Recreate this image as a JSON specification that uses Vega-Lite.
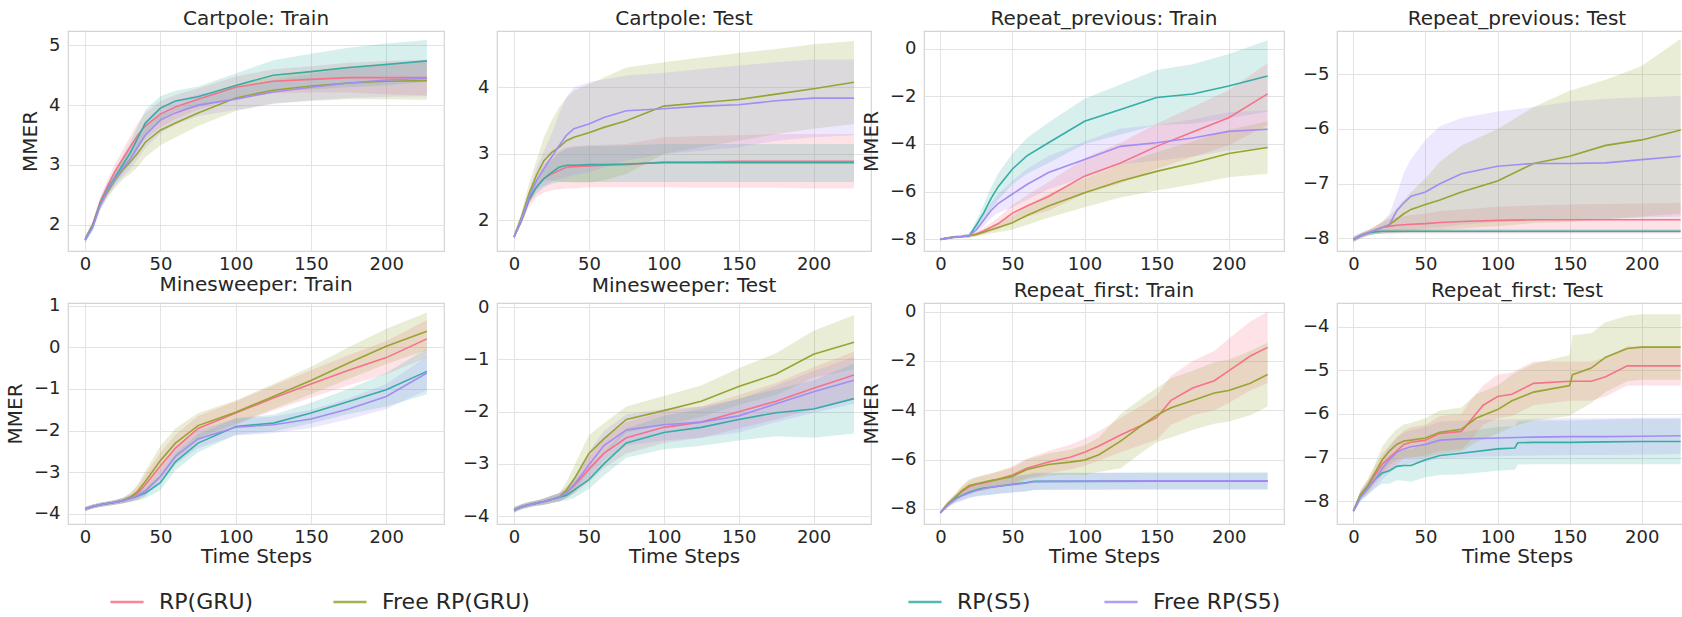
{
"$schema": "https://vega.github.io/schema/vega-lite/v6.json",
"padding": {"left": 4, "top": 8, "right": 0, "bottom": 0},
"background": "white",
"data": {"values": [
{"p":1,"s":"RP(GRU)","x":0,"y":1.75,"lo":1.70,"hi":1.80},
{"p":1,"s":"RP(GRU)","x":5,"y":2.0,"lo":1.94,"hi":2.06},
{"p":1,"s":"RP(GRU)","x":10,"y":2.38,"lo":2.30,"hi":2.46},
{"p":1,"s":"RP(GRU)","x":15,"y":2.65,"lo":2.55,"hi":2.75},
{"p":1,"s":"RP(GRU)","x":20,"y":2.9,"lo":2.78,"hi":3.02},
{"p":1,"s":"RP(GRU)","x":25,"y":3.1,"lo":2.95,"hi":3.25},
{"p":1,"s":"RP(GRU)","x":30,"y":3.3,"lo":3.12,"hi":3.48},
{"p":1,"s":"RP(GRU)","x":35,"y":3.5,"lo":3.3,"hi":3.7},
{"p":1,"s":"RP(GRU)","x":40,"y":3.65,"lo":3.43,"hi":3.87},
{"p":1,"s":"RP(GRU)","x":50,"y":3.85,"lo":3.63,"hi":4.07},
{"p":1,"s":"RP(GRU)","x":60,"y":3.97,"lo":3.77,"hi":4.17},
{"p":1,"s":"RP(GRU)","x":75,"y":4.1,"lo":3.92,"hi":4.28},
{"p":1,"s":"RP(GRU)","x":100,"y":4.3,"lo":4.12,"hi":4.48},
{"p":1,"s":"RP(GRU)","x":125,"y":4.4,"lo":4.2,"hi":4.6},
{"p":1,"s":"RP(GRU)","x":150,"y":4.43,"lo":4.21,"hi":4.65},
{"p":1,"s":"RP(GRU)","x":175,"y":4.46,"lo":4.21,"hi":4.71},
{"p":1,"s":"RP(GRU)","x":200,"y":4.46,"lo":4.18,"hi":4.74},
{"p":1,"s":"RP(GRU)","x":227,"y":4.46,"lo":4.16,"hi":4.76},
{"p":1,"s":"Free RP(GRU)","x":0,"y":1.75,"lo":1.70,"hi":1.80},
{"p":1,"s":"Free RP(GRU)","x":5,"y":1.98,"lo":1.92,"hi":2.04},
{"p":1,"s":"Free RP(GRU)","x":10,"y":2.33,"lo":2.25,"hi":2.41},
{"p":1,"s":"Free RP(GRU)","x":15,"y":2.55,"lo":2.45,"hi":2.65},
{"p":1,"s":"Free RP(GRU)","x":20,"y":2.75,"lo":2.62,"hi":2.88},
{"p":1,"s":"Free RP(GRU)","x":25,"y":2.92,"lo":2.75,"hi":3.09},
{"p":1,"s":"Free RP(GRU)","x":30,"y":3.05,"lo":2.85,"hi":3.25},
{"p":1,"s":"Free RP(GRU)","x":35,"y":3.2,"lo":2.97,"hi":3.43},
{"p":1,"s":"Free RP(GRU)","x":40,"y":3.38,"lo":3.13,"hi":3.63},
{"p":1,"s":"Free RP(GRU)","x":50,"y":3.58,"lo":3.33,"hi":3.83},
{"p":1,"s":"Free RP(GRU)","x":60,"y":3.7,"lo":3.46,"hi":3.94},
{"p":1,"s":"Free RP(GRU)","x":75,"y":3.87,"lo":3.65,"hi":4.09},
{"p":1,"s":"Free RP(GRU)","x":100,"y":4.12,"lo":3.9,"hi":4.34},
{"p":1,"s":"Free RP(GRU)","x":125,"y":4.25,"lo":4.03,"hi":4.47},
{"p":1,"s":"Free RP(GRU)","x":150,"y":4.32,"lo":4.07,"hi":4.57},
{"p":1,"s":"Free RP(GRU)","x":175,"y":4.37,"lo":4.1,"hi":4.64},
{"p":1,"s":"Free RP(GRU)","x":200,"y":4.4,"lo":4.1,"hi":4.7},
{"p":1,"s":"Free RP(GRU)","x":227,"y":4.41,"lo":4.09,"hi":4.73},
{"p":1,"s":"RP(S5)","x":0,"y":1.75,"lo":1.70,"hi":1.80},
{"p":1,"s":"RP(S5)","x":5,"y":1.97,"lo":1.91,"hi":2.03},
{"p":1,"s":"RP(S5)","x":10,"y":2.35,"lo":2.27,"hi":2.43},
{"p":1,"s":"RP(S5)","x":15,"y":2.6,"lo":2.5,"hi":2.7},
{"p":1,"s":"RP(S5)","x":20,"y":2.8,"lo":2.68,"hi":2.92},
{"p":1,"s":"RP(S5)","x":25,"y":3.0,"lo":2.85,"hi":3.15},
{"p":1,"s":"RP(S5)","x":30,"y":3.2,"lo":3.02,"hi":3.38},
{"p":1,"s":"RP(S5)","x":35,"y":3.45,"lo":3.25,"hi":3.65},
{"p":1,"s":"RP(S5)","x":40,"y":3.7,"lo":3.48,"hi":3.92},
{"p":1,"s":"RP(S5)","x":50,"y":3.95,"lo":3.75,"hi":4.15},
{"p":1,"s":"RP(S5)","x":60,"y":4.07,"lo":3.9,"hi":4.24},
{"p":1,"s":"RP(S5)","x":75,"y":4.14,"lo":3.97,"hi":4.31},
{"p":1,"s":"RP(S5)","x":100,"y":4.33,"lo":4.13,"hi":4.53},
{"p":1,"s":"RP(S5)","x":125,"y":4.5,"lo":4.25,"hi":4.75},
{"p":1,"s":"RP(S5)","x":150,"y":4.56,"lo":4.26,"hi":4.86},
{"p":1,"s":"RP(S5)","x":175,"y":4.63,"lo":4.3,"hi":4.96},
{"p":1,"s":"RP(S5)","x":200,"y":4.68,"lo":4.33,"hi":5.03},
{"p":1,"s":"RP(S5)","x":227,"y":4.74,"lo":4.39,"hi":5.09},
{"p":1,"s":"Free RP(S5)","x":0,"y":1.75,"lo":1.70,"hi":1.80},
{"p":1,"s":"Free RP(S5)","x":5,"y":1.95,"lo":1.89,"hi":2.01},
{"p":1,"s":"Free RP(S5)","x":10,"y":2.32,"lo":2.24,"hi":2.40},
{"p":1,"s":"Free RP(S5)","x":15,"y":2.58,"lo":2.48,"hi":2.68},
{"p":1,"s":"Free RP(S5)","x":20,"y":2.77,"lo":2.65,"hi":2.89},
{"p":1,"s":"Free RP(S5)","x":25,"y":2.95,"lo":2.8,"hi":3.1},
{"p":1,"s":"Free RP(S5)","x":30,"y":3.1,"lo":2.92,"hi":3.28},
{"p":1,"s":"Free RP(S5)","x":35,"y":3.3,"lo":3.1,"hi":3.5},
{"p":1,"s":"Free RP(S5)","x":40,"y":3.5,"lo":3.28,"hi":3.72},
{"p":1,"s":"Free RP(S5)","x":50,"y":3.75,"lo":3.53,"hi":3.97},
{"p":1,"s":"Free RP(S5)","x":60,"y":3.87,"lo":3.67,"hi":4.07},
{"p":1,"s":"Free RP(S5)","x":75,"y":4.0,"lo":3.82,"hi":4.18},
{"p":1,"s":"Free RP(S5)","x":100,"y":4.1,"lo":3.92,"hi":4.28},
{"p":1,"s":"Free RP(S5)","x":125,"y":4.22,"lo":4.02,"hi":4.42},
{"p":1,"s":"Free RP(S5)","x":150,"y":4.3,"lo":4.08,"hi":4.52},
{"p":1,"s":"Free RP(S5)","x":175,"y":4.37,"lo":4.12,"hi":4.62},
{"p":1,"s":"Free RP(S5)","x":200,"y":4.42,"lo":4.14,"hi":4.7},
{"p":1,"s":"Free RP(S5)","x":227,"y":4.45,"lo":4.15,"hi":4.75},

{"p":2,"s":"RP(GRU)","x":0,"y":1.75,"lo":1.72,"hi":1.78},
{"p":2,"s":"RP(GRU)","x":5,"y":2.0,"lo":1.95,"hi":2.05},
{"p":2,"s":"RP(GRU)","x":10,"y":2.3,"lo":2.2,"hi":2.4},
{"p":2,"s":"RP(GRU)","x":15,"y":2.5,"lo":2.35,"hi":2.65},
{"p":2,"s":"RP(GRU)","x":20,"y":2.63,"lo":2.42,"hi":2.85},
{"p":2,"s":"RP(GRU)","x":25,"y":2.7,"lo":2.45,"hi":2.95},
{"p":2,"s":"RP(GRU)","x":30,"y":2.75,"lo":2.47,"hi":3.05},
{"p":2,"s":"RP(GRU)","x":35,"y":2.8,"lo":2.48,"hi":3.1},
{"p":2,"s":"RP(GRU)","x":40,"y":2.81,"lo":2.48,"hi":3.12},
{"p":2,"s":"RP(GRU)","x":50,"y":2.82,"lo":2.5,"hi":3.13},
{"p":2,"s":"RP(GRU)","x":60,"y":2.83,"lo":2.5,"hi":3.14},
{"p":2,"s":"RP(GRU)","x":75,"y":2.84,"lo":2.5,"hi":3.15},
{"p":2,"s":"RP(GRU)","x":100,"y":2.88,"lo":2.5,"hi":3.25},
{"p":2,"s":"RP(GRU)","x":125,"y":2.88,"lo":2.49,"hi":3.27},
{"p":2,"s":"RP(GRU)","x":150,"y":2.89,"lo":2.49,"hi":3.28},
{"p":2,"s":"RP(GRU)","x":175,"y":2.89,"lo":2.49,"hi":3.3},
{"p":2,"s":"RP(GRU)","x":200,"y":2.89,"lo":2.48,"hi":3.3},
{"p":2,"s":"RP(GRU)","x":227,"y":2.89,"lo":2.48,"hi":3.3},
{"p":2,"s":"Free RP(GRU)","x":0,"y":1.75,"lo":1.72,"hi":1.8},
{"p":2,"s":"Free RP(GRU)","x":5,"y":2.05,"lo":1.98,"hi":2.12},
{"p":2,"s":"Free RP(GRU)","x":10,"y":2.4,"lo":2.3,"hi":2.55},
{"p":2,"s":"Free RP(GRU)","x":15,"y":2.68,"lo":2.5,"hi":2.9},
{"p":2,"s":"Free RP(GRU)","x":20,"y":2.9,"lo":2.6,"hi":3.25},
{"p":2,"s":"Free RP(GRU)","x":25,"y":3.02,"lo":2.6,"hi":3.5},
{"p":2,"s":"Free RP(GRU)","x":30,"y":3.1,"lo":2.58,"hi":3.7},
{"p":2,"s":"Free RP(GRU)","x":35,"y":3.2,"lo":2.58,"hi":3.85},
{"p":2,"s":"Free RP(GRU)","x":40,"y":3.25,"lo":2.57,"hi":3.95},
{"p":2,"s":"Free RP(GRU)","x":50,"y":3.32,"lo":2.57,"hi":4.05},
{"p":2,"s":"Free RP(GRU)","x":60,"y":3.4,"lo":2.6,"hi":4.15},
{"p":2,"s":"Free RP(GRU)","x":75,"y":3.5,"lo":2.7,"hi":4.3},
{"p":2,"s":"Free RP(GRU)","x":100,"y":3.72,"lo":3.0,"hi":4.38},
{"p":2,"s":"Free RP(GRU)","x":125,"y":3.77,"lo":3.1,"hi":4.45},
{"p":2,"s":"Free RP(GRU)","x":150,"y":3.82,"lo":3.2,"hi":4.52},
{"p":2,"s":"Free RP(GRU)","x":175,"y":3.9,"lo":3.3,"hi":4.58},
{"p":2,"s":"Free RP(GRU)","x":200,"y":3.98,"lo":3.38,"hi":4.65},
{"p":2,"s":"Free RP(GRU)","x":227,"y":4.08,"lo":3.45,"hi":4.7},
{"p":2,"s":"RP(S5)","x":0,"y":1.75,"lo":1.72,"hi":1.78},
{"p":2,"s":"RP(S5)","x":5,"y":2.0,"lo":1.96,"hi":2.04},
{"p":2,"s":"RP(S5)","x":10,"y":2.32,"lo":2.25,"hi":2.4},
{"p":2,"s":"RP(S5)","x":15,"y":2.5,"lo":2.4,"hi":2.6},
{"p":2,"s":"RP(S5)","x":20,"y":2.63,"lo":2.5,"hi":2.78},
{"p":2,"s":"RP(S5)","x":25,"y":2.72,"lo":2.55,"hi":2.9},
{"p":2,"s":"RP(S5)","x":30,"y":2.8,"lo":2.58,"hi":3.02},
{"p":2,"s":"RP(S5)","x":35,"y":2.83,"lo":2.58,"hi":3.08},
{"p":2,"s":"RP(S5)","x":40,"y":2.83,"lo":2.58,"hi":3.1},
{"p":2,"s":"RP(S5)","x":50,"y":2.84,"lo":2.58,"hi":3.12},
{"p":2,"s":"RP(S5)","x":60,"y":2.84,"lo":2.58,"hi":3.12},
{"p":2,"s":"RP(S5)","x":75,"y":2.85,"lo":2.58,"hi":3.13},
{"p":2,"s":"RP(S5)","x":100,"y":2.87,"lo":2.58,"hi":3.15},
{"p":2,"s":"RP(S5)","x":125,"y":2.87,"lo":2.58,"hi":3.15},
{"p":2,"s":"RP(S5)","x":150,"y":2.87,"lo":2.58,"hi":3.15},
{"p":2,"s":"RP(S5)","x":175,"y":2.87,"lo":2.58,"hi":3.15},
{"p":2,"s":"RP(S5)","x":200,"y":2.87,"lo":2.58,"hi":3.15},
{"p":2,"s":"RP(S5)","x":227,"y":2.87,"lo":2.58,"hi":3.15},
{"p":2,"s":"Free RP(S5)","x":0,"y":1.75,"lo":1.72,"hi":1.78},
{"p":2,"s":"Free RP(S5)","x":5,"y":2.02,"lo":1.97,"hi":2.08},
{"p":2,"s":"Free RP(S5)","x":10,"y":2.35,"lo":2.27,"hi":2.45},
{"p":2,"s":"Free RP(S5)","x":15,"y":2.6,"lo":2.45,"hi":2.78},
{"p":2,"s":"Free RP(S5)","x":20,"y":2.78,"lo":2.52,"hi":3.05},
{"p":2,"s":"Free RP(S5)","x":25,"y":2.95,"lo":2.58,"hi":3.3},
{"p":2,"s":"Free RP(S5)","x":30,"y":3.12,"lo":2.62,"hi":3.6},
{"p":2,"s":"Free RP(S5)","x":35,"y":3.28,"lo":2.65,"hi":3.85},
{"p":2,"s":"Free RP(S5)","x":40,"y":3.38,"lo":2.68,"hi":4.0},
{"p":2,"s":"Free RP(S5)","x":50,"y":3.45,"lo":2.72,"hi":4.08},
{"p":2,"s":"Free RP(S5)","x":60,"y":3.55,"lo":2.8,"hi":4.12},
{"p":2,"s":"Free RP(S5)","x":75,"y":3.65,"lo":2.9,"hi":4.18},
{"p":2,"s":"Free RP(S5)","x":100,"y":3.68,"lo":3.0,"hi":4.22},
{"p":2,"s":"Free RP(S5)","x":125,"y":3.72,"lo":3.05,"hi":4.28},
{"p":2,"s":"Free RP(S5)","x":150,"y":3.74,"lo":3.1,"hi":4.33},
{"p":2,"s":"Free RP(S5)","x":175,"y":3.8,"lo":3.2,"hi":4.38},
{"p":2,"s":"Free RP(S5)","x":200,"y":3.84,"lo":3.25,"hi":4.42},
{"p":2,"s":"Free RP(S5)","x":227,"y":3.84,"lo":3.28,"hi":4.42},

{"p":3,"s":"RP(S5)","x":0,"y":-8.0,"lo":-8.05,"hi":-7.95},
{"p":3,"s":"RP(S5)","x":5,"y":-7.95,"lo":-8.0,"hi":-7.9},
{"p":3,"s":"RP(S5)","x":10,"y":-7.9,"lo":-7.95,"hi":-7.85},
{"p":3,"s":"RP(S5)","x":15,"y":-7.88,"lo":-7.93,"hi":-7.83},
{"p":3,"s":"RP(S5)","x":20,"y":-7.85,"lo":-7.93,"hi":-7.77},
{"p":3,"s":"RP(S5)","x":25,"y":-7.4,"lo":-7.6,"hi":-7.2},
{"p":3,"s":"RP(S5)","x":30,"y":-6.9,"lo":-7.25,"hi":-6.55},
{"p":3,"s":"RP(S5)","x":35,"y":-6.3,"lo":-6.75,"hi":-5.85},
{"p":3,"s":"RP(S5)","x":40,"y":-5.8,"lo":-6.35,"hi":-5.25},
{"p":3,"s":"RP(S5)","x":50,"y":-5.05,"lo":-5.7,"hi":-4.4},
{"p":3,"s":"RP(S5)","x":60,"y":-4.5,"lo":-5.25,"hi":-3.75},
{"p":3,"s":"RP(S5)","x":75,"y":-3.95,"lo":-4.8,"hi":-3.1},
{"p":3,"s":"RP(S5)","x":100,"y":-3.05,"lo":-4.0,"hi":-2.1},
{"p":3,"s":"RP(S5)","x":125,"y":-2.55,"lo":-3.6,"hi":-1.5},
{"p":3,"s":"RP(S5)","x":150,"y":-2.05,"lo":-3.2,"hi":-0.9},
{"p":3,"s":"RP(S5)","x":175,"y":-1.9,"lo":-3.15,"hi":-0.65},
{"p":3,"s":"RP(S5)","x":200,"y":-1.57,"lo":-2.92,"hi":-0.22},
{"p":3,"s":"RP(S5)","x":227,"y":-1.15,"lo":-2.65,"hi":0.35},
{"p":3,"s":"Free RP(S5)","x":0,"y":-8.0,"lo":-8.05,"hi":-7.95},
{"p":3,"s":"Free RP(S5)","x":5,"y":-7.95,"lo":-8.0,"hi":-7.9},
{"p":3,"s":"Free RP(S5)","x":10,"y":-7.9,"lo":-7.95,"hi":-7.85},
{"p":3,"s":"Free RP(S5)","x":15,"y":-7.88,"lo":-7.93,"hi":-7.83},
{"p":3,"s":"Free RP(S5)","x":20,"y":-7.85,"lo":-7.93,"hi":-7.77},
{"p":3,"s":"Free RP(S5)","x":25,"y":-7.6,"lo":-7.75,"hi":-7.45},
{"p":3,"s":"Free RP(S5)","x":30,"y":-7.2,"lo":-7.45,"hi":-6.95},
{"p":3,"s":"Free RP(S5)","x":35,"y":-6.8,"lo":-7.12,"hi":-6.48},
{"p":3,"s":"Free RP(S5)","x":40,"y":-6.5,"lo":-6.9,"hi":-6.1},
{"p":3,"s":"Free RP(S5)","x":50,"y":-6.1,"lo":-6.65,"hi":-5.55},
{"p":3,"s":"Free RP(S5)","x":60,"y":-5.7,"lo":-6.35,"hi":-5.05},
{"p":3,"s":"Free RP(S5)","x":75,"y":-5.2,"lo":-5.9,"hi":-4.5},
{"p":3,"s":"Free RP(S5)","x":100,"y":-4.65,"lo":-5.4,"hi":-3.9},
{"p":3,"s":"Free RP(S5)","x":125,"y":-4.1,"lo":-4.85,"hi":-3.35},
{"p":3,"s":"Free RP(S5)","x":150,"y":-3.95,"lo":-4.7,"hi":-3.2},
{"p":3,"s":"Free RP(S5)","x":175,"y":-3.75,"lo":-4.53,"hi":-2.97},
{"p":3,"s":"Free RP(S5)","x":200,"y":-3.47,"lo":-4.27,"hi":-2.67},
{"p":3,"s":"Free RP(S5)","x":227,"y":-3.38,"lo":-4.18,"hi":-2.58},
{"p":3,"s":"RP(GRU)","x":0,"y":-8.0,"lo":-8.05,"hi":-7.95},
{"p":3,"s":"RP(GRU)","x":5,"y":-7.95,"lo":-8.0,"hi":-7.9},
{"p":3,"s":"RP(GRU)","x":10,"y":-7.9,"lo":-7.95,"hi":-7.85},
{"p":3,"s":"RP(GRU)","x":15,"y":-7.88,"lo":-7.93,"hi":-7.83},
{"p":3,"s":"RP(GRU)","x":20,"y":-7.85,"lo":-7.91,"hi":-7.79},
{"p":3,"s":"RP(GRU)","x":25,"y":-7.78,"lo":-7.86,"hi":-7.7},
{"p":3,"s":"RP(GRU)","x":30,"y":-7.65,"lo":-7.77,"hi":-7.53},
{"p":3,"s":"RP(GRU)","x":35,"y":-7.5,"lo":-7.68,"hi":-7.32},
{"p":3,"s":"RP(GRU)","x":40,"y":-7.35,"lo":-7.6,"hi":-7.1},
{"p":3,"s":"RP(GRU)","x":50,"y":-6.9,"lo":-7.25,"hi":-6.55},
{"p":3,"s":"RP(GRU)","x":60,"y":-6.6,"lo":-7.05,"hi":-6.15},
{"p":3,"s":"RP(GRU)","x":75,"y":-6.2,"lo":-6.8,"hi":-5.6},
{"p":3,"s":"RP(GRU)","x":100,"y":-5.35,"lo":-6.1,"hi":-4.6},
{"p":3,"s":"RP(GRU)","x":125,"y":-4.8,"lo":-5.65,"hi":-3.95},
{"p":3,"s":"RP(GRU)","x":150,"y":-4.1,"lo":-5.05,"hi":-3.15},
{"p":3,"s":"RP(GRU)","x":175,"y":-3.5,"lo":-4.55,"hi":-2.45},
{"p":3,"s":"RP(GRU)","x":200,"y":-2.9,"lo":-4.05,"hi":-1.75},
{"p":3,"s":"RP(GRU)","x":227,"y":-1.9,"lo":-3.2,"hi":-0.6},
{"p":3,"s":"Free RP(GRU)","x":0,"y":-8.0,"lo":-8.05,"hi":-7.95},
{"p":3,"s":"Free RP(GRU)","x":5,"y":-7.95,"lo":-8.0,"hi":-7.9},
{"p":3,"s":"Free RP(GRU)","x":10,"y":-7.9,"lo":-7.95,"hi":-7.85},
{"p":3,"s":"Free RP(GRU)","x":15,"y":-7.88,"lo":-7.93,"hi":-7.83},
{"p":3,"s":"Free RP(GRU)","x":20,"y":-7.85,"lo":-7.91,"hi":-7.79},
{"p":3,"s":"Free RP(GRU)","x":25,"y":-7.8,"lo":-7.88,"hi":-7.72},
{"p":3,"s":"Free RP(GRU)","x":30,"y":-7.7,"lo":-7.82,"hi":-7.58},
{"p":3,"s":"Free RP(GRU)","x":35,"y":-7.6,"lo":-7.76,"hi":-7.44},
{"p":3,"s":"Free RP(GRU)","x":40,"y":-7.5,"lo":-7.7,"hi":-7.3},
{"p":3,"s":"Free RP(GRU)","x":50,"y":-7.3,"lo":-7.6,"hi":-7.0},
{"p":3,"s":"Free RP(GRU)","x":60,"y":-7.0,"lo":-7.4,"hi":-6.6},
{"p":3,"s":"Free RP(GRU)","x":75,"y":-6.6,"lo":-7.1,"hi":-6.1},
{"p":3,"s":"Free RP(GRU)","x":100,"y":-6.05,"lo":-6.65,"hi":-5.45},
{"p":3,"s":"Free RP(GRU)","x":125,"y":-5.55,"lo":-6.25,"hi":-4.85},
{"p":3,"s":"Free RP(GRU)","x":150,"y":-5.15,"lo":-5.95,"hi":-4.35},
{"p":3,"s":"Free RP(GRU)","x":175,"y":-4.8,"lo":-5.7,"hi":-3.9},
{"p":3,"s":"Free RP(GRU)","x":200,"y":-4.4,"lo":-5.4,"hi":-3.4},
{"p":3,"s":"Free RP(GRU)","x":227,"y":-4.15,"lo":-5.25,"hi":-3.05},

{"p":4,"s":"RP(S5)","x":0,"y":-8.02,"lo":-8.06,"hi":-7.98},
{"p":4,"s":"RP(S5)","x":5,"y":-7.95,"lo":-7.99,"hi":-7.91},
{"p":4,"s":"RP(S5)","x":10,"y":-7.9,"lo":-7.94,"hi":-7.86},
{"p":4,"s":"RP(S5)","x":15,"y":-7.88,"lo":-7.92,"hi":-7.84},
{"p":4,"s":"RP(S5)","x":20,"y":-7.87,"lo":-7.91,"hi":-7.83},
{"p":4,"s":"RP(S5)","x":50,"y":-7.87,"lo":-7.91,"hi":-7.83},
{"p":4,"s":"RP(S5)","x":100,"y":-7.87,"lo":-7.91,"hi":-7.83},
{"p":4,"s":"RP(S5)","x":150,"y":-7.87,"lo":-7.91,"hi":-7.83},
{"p":4,"s":"RP(S5)","x":200,"y":-7.87,"lo":-7.91,"hi":-7.83},
{"p":4,"s":"RP(S5)","x":227,"y":-7.87,"lo":-7.91,"hi":-7.83},
{"p":4,"s":"RP(GRU)","x":0,"y":-8.02,"lo":-8.06,"hi":-7.98},
{"p":4,"s":"RP(GRU)","x":5,"y":-7.95,"lo":-7.99,"hi":-7.91},
{"p":4,"s":"RP(GRU)","x":10,"y":-7.9,"lo":-7.95,"hi":-7.85},
{"p":4,"s":"RP(GRU)","x":15,"y":-7.85,"lo":-7.92,"hi":-7.78},
{"p":4,"s":"RP(GRU)","x":20,"y":-7.8,"lo":-7.9,"hi":-7.7},
{"p":4,"s":"RP(GRU)","x":25,"y":-7.78,"lo":-7.9,"hi":-7.65},
{"p":4,"s":"RP(GRU)","x":30,"y":-7.76,"lo":-7.9,"hi":-7.62},
{"p":4,"s":"RP(GRU)","x":35,"y":-7.75,"lo":-7.9,"hi":-7.6},
{"p":4,"s":"RP(GRU)","x":40,"y":-7.74,"lo":-7.9,"hi":-7.57},
{"p":4,"s":"RP(GRU)","x":50,"y":-7.73,"lo":-7.9,"hi":-7.55},
{"p":4,"s":"RP(GRU)","x":60,"y":-7.71,"lo":-7.9,"hi":-7.5},
{"p":4,"s":"RP(GRU)","x":75,"y":-7.69,"lo":-7.9,"hi":-7.47},
{"p":4,"s":"RP(GRU)","x":100,"y":-7.67,"lo":-7.9,"hi":-7.42},
{"p":4,"s":"RP(GRU)","x":125,"y":-7.66,"lo":-7.9,"hi":-7.4},
{"p":4,"s":"RP(GRU)","x":150,"y":-7.66,"lo":-7.9,"hi":-7.38},
{"p":4,"s":"RP(GRU)","x":175,"y":-7.66,"lo":-7.9,"hi":-7.37},
{"p":4,"s":"RP(GRU)","x":200,"y":-7.66,"lo":-7.9,"hi":-7.36},
{"p":4,"s":"RP(GRU)","x":227,"y":-7.66,"lo":-7.9,"hi":-7.35},
{"p":4,"s":"Free RP(S5)","x":0,"y":-8.02,"lo":-8.08,"hi":-7.95},
{"p":4,"s":"Free RP(S5)","x":5,"y":-7.95,"lo":-8.0,"hi":-7.9},
{"p":4,"s":"Free RP(S5)","x":10,"y":-7.9,"lo":-7.95,"hi":-7.85},
{"p":4,"s":"Free RP(S5)","x":15,"y":-7.85,"lo":-7.92,"hi":-7.8},
{"p":4,"s":"Free RP(S5)","x":20,"y":-7.8,"lo":-7.9,"hi":-7.7},
{"p":4,"s":"Free RP(S5)","x":25,"y":-7.75,"lo":-7.9,"hi":-7.55},
{"p":4,"s":"Free RP(S5)","x":30,"y":-7.5,"lo":-7.88,"hi":-7.2},
{"p":4,"s":"Free RP(S5)","x":35,"y":-7.35,"lo":-7.85,"hi":-6.8},
{"p":4,"s":"Free RP(S5)","x":40,"y":-7.23,"lo":-7.85,"hi":-6.55},
{"p":4,"s":"Free RP(S5)","x":50,"y":-7.15,"lo":-7.82,"hi":-6.2},
{"p":4,"s":"Free RP(S5)","x":60,"y":-7.0,"lo":-7.8,"hi":-5.95},
{"p":4,"s":"Free RP(S5)","x":75,"y":-6.82,"lo":-7.75,"hi":-5.8},
{"p":4,"s":"Free RP(S5)","x":100,"y":-6.68,"lo":-7.7,"hi":-5.68},
{"p":4,"s":"Free RP(S5)","x":125,"y":-6.63,"lo":-7.68,"hi":-5.6},
{"p":4,"s":"Free RP(S5)","x":150,"y":-6.63,"lo":-7.66,"hi":-5.5},
{"p":4,"s":"Free RP(S5)","x":175,"y":-6.62,"lo":-7.64,"hi":-5.45},
{"p":4,"s":"Free RP(S5)","x":200,"y":-6.56,"lo":-7.62,"hi":-5.42},
{"p":4,"s":"Free RP(S5)","x":227,"y":-6.5,"lo":-7.6,"hi":-5.4},
{"p":4,"s":"Free RP(GRU)","x":0,"y":-8.02,"lo":-8.06,"hi":-7.98},
{"p":4,"s":"Free RP(GRU)","x":5,"y":-7.95,"lo":-8.0,"hi":-7.9},
{"p":4,"s":"Free RP(GRU)","x":10,"y":-7.9,"lo":-7.95,"hi":-7.85},
{"p":4,"s":"Free RP(GRU)","x":15,"y":-7.85,"lo":-7.92,"hi":-7.78},
{"p":4,"s":"Free RP(GRU)","x":20,"y":-7.8,"lo":-7.92,"hi":-7.7},
{"p":4,"s":"Free RP(GRU)","x":25,"y":-7.75,"lo":-7.91,"hi":-7.6},
{"p":4,"s":"Free RP(GRU)","x":30,"y":-7.65,"lo":-7.9,"hi":-7.45},
{"p":4,"s":"Free RP(GRU)","x":35,"y":-7.55,"lo":-7.89,"hi":-7.3},
{"p":4,"s":"Free RP(GRU)","x":40,"y":-7.47,"lo":-7.88,"hi":-7.15},
{"p":4,"s":"Free RP(GRU)","x":50,"y":-7.38,"lo":-7.85,"hi":-6.9},
{"p":4,"s":"Free RP(GRU)","x":60,"y":-7.3,"lo":-7.85,"hi":-6.6},
{"p":4,"s":"Free RP(GRU)","x":75,"y":-7.15,"lo":-7.82,"hi":-6.3},
{"p":4,"s":"Free RP(GRU)","x":100,"y":-6.95,"lo":-7.78,"hi":-6.0},
{"p":4,"s":"Free RP(GRU)","x":125,"y":-6.63,"lo":-7.72,"hi":-5.6},
{"p":4,"s":"Free RP(GRU)","x":150,"y":-6.5,"lo":-7.7,"hi":-5.3},
{"p":4,"s":"Free RP(GRU)","x":175,"y":-6.3,"lo":-7.65,"hi":-5.1},
{"p":4,"s":"Free RP(GRU)","x":200,"y":-6.2,"lo":-7.6,"hi":-4.85},
{"p":4,"s":"Free RP(GRU)","x":227,"y":-6.02,"lo":-7.55,"hi":-4.35},

{"p":5,"s":"RP(GRU)","x":0,"y":-3.88,"lo":-3.93,"hi":-3.83},
{"p":5,"s":"RP(GRU)","x":5,"y":-3.82,"lo":-3.87,"hi":-3.77},
{"p":5,"s":"RP(GRU)","x":10,"y":-3.78,"lo":-3.83,"hi":-3.73},
{"p":5,"s":"RP(GRU)","x":15,"y":-3.75,"lo":-3.8,"hi":-3.7},
{"p":5,"s":"RP(GRU)","x":20,"y":-3.72,"lo":-3.78,"hi":-3.66},
{"p":5,"s":"RP(GRU)","x":25,"y":-3.68,"lo":-3.75,"hi":-3.61},
{"p":5,"s":"RP(GRU)","x":30,"y":-3.6,"lo":-3.7,"hi":-3.5},
{"p":5,"s":"RP(GRU)","x":35,"y":-3.5,"lo":-3.67,"hi":-3.33},
{"p":5,"s":"RP(GRU)","x":40,"y":-3.3,"lo":-3.55,"hi":-3.05},
{"p":5,"s":"RP(GRU)","x":50,"y":-2.85,"lo":-3.17,"hi":-2.53},
{"p":5,"s":"RP(GRU)","x":60,"y":-2.42,"lo":-2.74,"hi":-2.1},
{"p":5,"s":"RP(GRU)","x":75,"y":-1.95,"lo":-2.25,"hi":-1.65},
{"p":5,"s":"RP(GRU)","x":100,"y":-1.58,"lo":-1.86,"hi":-1.3},
{"p":5,"s":"RP(GRU)","x":125,"y":-1.22,"lo":-1.52,"hi":-0.92},
{"p":5,"s":"RP(GRU)","x":150,"y":-0.88,"lo":-1.21,"hi":-0.55},
{"p":5,"s":"RP(GRU)","x":175,"y":-0.55,"lo":-0.91,"hi":-0.19},
{"p":5,"s":"RP(GRU)","x":200,"y":-0.25,"lo":-0.65,"hi":0.15},
{"p":5,"s":"RP(GRU)","x":227,"y":0.2,"lo":-0.25,"hi":0.65},
{"p":5,"s":"Free RP(GRU)","x":0,"y":-3.88,"lo":-3.93,"hi":-3.83},
{"p":5,"s":"Free RP(GRU)","x":5,"y":-3.82,"lo":-3.87,"hi":-3.77},
{"p":5,"s":"Free RP(GRU)","x":10,"y":-3.78,"lo":-3.83,"hi":-3.73},
{"p":5,"s":"Free RP(GRU)","x":15,"y":-3.75,"lo":-3.8,"hi":-3.7},
{"p":5,"s":"Free RP(GRU)","x":20,"y":-3.72,"lo":-3.78,"hi":-3.66},
{"p":5,"s":"Free RP(GRU)","x":25,"y":-3.68,"lo":-3.75,"hi":-3.61},
{"p":5,"s":"Free RP(GRU)","x":30,"y":-3.6,"lo":-3.7,"hi":-3.5},
{"p":5,"s":"Free RP(GRU)","x":35,"y":-3.45,"lo":-3.62,"hi":-3.28},
{"p":5,"s":"Free RP(GRU)","x":40,"y":-3.22,"lo":-3.47,"hi":-2.97},
{"p":5,"s":"Free RP(GRU)","x":50,"y":-2.72,"lo":-3.07,"hi":-2.37},
{"p":5,"s":"Free RP(GRU)","x":60,"y":-2.3,"lo":-2.65,"hi":-1.95},
{"p":5,"s":"Free RP(GRU)","x":75,"y":-1.88,"lo":-2.18,"hi":-1.58},
{"p":5,"s":"Free RP(GRU)","x":100,"y":-1.56,"lo":-1.84,"hi":-1.28},
{"p":5,"s":"Free RP(GRU)","x":125,"y":-1.18,"lo":-1.48,"hi":-0.88},
{"p":5,"s":"Free RP(GRU)","x":150,"y":-0.8,"lo":-1.13,"hi":-0.47},
{"p":5,"s":"Free RP(GRU)","x":175,"y":-0.38,"lo":-0.76,"hi":0.0},
{"p":5,"s":"Free RP(GRU)","x":200,"y":0.02,"lo":-0.4,"hi":0.44},
{"p":5,"s":"Free RP(GRU)","x":227,"y":0.38,"lo":-0.07,"hi":0.83},
{"p":5,"s":"RP(S5)","x":0,"y":-3.88,"lo":-3.93,"hi":-3.83},
{"p":5,"s":"RP(S5)","x":5,"y":-3.82,"lo":-3.87,"hi":-3.77},
{"p":5,"s":"RP(S5)","x":10,"y":-3.78,"lo":-3.83,"hi":-3.73},
{"p":5,"s":"RP(S5)","x":15,"y":-3.75,"lo":-3.8,"hi":-3.7},
{"p":5,"s":"RP(S5)","x":20,"y":-3.72,"lo":-3.77,"hi":-3.67},
{"p":5,"s":"RP(S5)","x":25,"y":-3.68,"lo":-3.74,"hi":-3.62},
{"p":5,"s":"RP(S5)","x":30,"y":-3.63,"lo":-3.71,"hi":-3.55},
{"p":5,"s":"RP(S5)","x":35,"y":-3.57,"lo":-3.67,"hi":-3.47},
{"p":5,"s":"RP(S5)","x":40,"y":-3.5,"lo":-3.62,"hi":-3.38},
{"p":5,"s":"RP(S5)","x":50,"y":-3.25,"lo":-3.43,"hi":-3.07},
{"p":5,"s":"RP(S5)","x":60,"y":-2.75,"lo":-2.95,"hi":-2.55},
{"p":5,"s":"RP(S5)","x":75,"y":-2.3,"lo":-2.52,"hi":-2.08},
{"p":5,"s":"RP(S5)","x":100,"y":-1.9,"lo":-2.1,"hi":-1.7},
{"p":5,"s":"RP(S5)","x":125,"y":-1.82,"lo":-2.02,"hi":-1.62},
{"p":5,"s":"RP(S5)","x":150,"y":-1.58,"lo":-1.83,"hi":-1.33},
{"p":5,"s":"RP(S5)","x":175,"y":-1.3,"lo":-1.6,"hi":-1.0},
{"p":5,"s":"RP(S5)","x":200,"y":-1.02,"lo":-1.42,"hi":-0.62},
{"p":5,"s":"RP(S5)","x":227,"y":-0.58,"lo":-1.13,"hi":-0.03},
{"p":5,"s":"Free RP(S5)","x":0,"y":-3.88,"lo":-3.93,"hi":-3.83},
{"p":5,"s":"Free RP(S5)","x":5,"y":-3.82,"lo":-3.87,"hi":-3.77},
{"p":5,"s":"Free RP(S5)","x":10,"y":-3.78,"lo":-3.83,"hi":-3.73},
{"p":5,"s":"Free RP(S5)","x":15,"y":-3.75,"lo":-3.8,"hi":-3.7},
{"p":5,"s":"Free RP(S5)","x":20,"y":-3.72,"lo":-3.77,"hi":-3.67},
{"p":5,"s":"Free RP(S5)","x":25,"y":-3.68,"lo":-3.74,"hi":-3.62},
{"p":5,"s":"Free RP(S5)","x":30,"y":-3.63,"lo":-3.71,"hi":-3.55},
{"p":5,"s":"Free RP(S5)","x":35,"y":-3.55,"lo":-3.65,"hi":-3.45},
{"p":5,"s":"Free RP(S5)","x":40,"y":-3.45,"lo":-3.57,"hi":-3.33},
{"p":5,"s":"Free RP(S5)","x":50,"y":-3.1,"lo":-3.28,"hi":-2.92},
{"p":5,"s":"Free RP(S5)","x":60,"y":-2.62,"lo":-2.82,"hi":-2.42},
{"p":5,"s":"Free RP(S5)","x":75,"y":-2.2,"lo":-2.42,"hi":-1.98},
{"p":5,"s":"Free RP(S5)","x":100,"y":-1.92,"lo":-2.12,"hi":-1.72},
{"p":5,"s":"Free RP(S5)","x":125,"y":-1.86,"lo":-2.06,"hi":-1.66},
{"p":5,"s":"Free RP(S5)","x":150,"y":-1.72,"lo":-1.94,"hi":-1.5},
{"p":5,"s":"Free RP(S5)","x":175,"y":-1.48,"lo":-1.73,"hi":-1.23},
{"p":5,"s":"Free RP(S5)","x":200,"y":-1.18,"lo":-1.48,"hi":-0.88},
{"p":5,"s":"Free RP(S5)","x":227,"y":-0.62,"lo":-1.02,"hi":-0.22},

{"p":6,"s":"RP(GRU)","x":0,"y":-3.88,"lo":-3.93,"hi":-3.83},
{"p":6,"s":"RP(GRU)","x":5,"y":-3.82,"lo":-3.87,"hi":-3.77},
{"p":6,"s":"RP(GRU)","x":10,"y":-3.78,"lo":-3.83,"hi":-3.73},
{"p":6,"s":"RP(GRU)","x":15,"y":-3.75,"lo":-3.8,"hi":-3.7},
{"p":6,"s":"RP(GRU)","x":20,"y":-3.72,"lo":-3.78,"hi":-3.66},
{"p":6,"s":"RP(GRU)","x":25,"y":-3.68,"lo":-3.75,"hi":-3.61},
{"p":6,"s":"RP(GRU)","x":30,"y":-3.64,"lo":-3.72,"hi":-3.56},
{"p":6,"s":"RP(GRU)","x":35,"y":-3.55,"lo":-3.65,"hi":-3.45},
{"p":6,"s":"RP(GRU)","x":40,"y":-3.42,"lo":-3.57,"hi":-3.27},
{"p":6,"s":"RP(GRU)","x":50,"y":-3.1,"lo":-3.35,"hi":-2.85},
{"p":6,"s":"RP(GRU)","x":60,"y":-2.8,"lo":-3.08,"hi":-2.52},
{"p":6,"s":"RP(GRU)","x":75,"y":-2.5,"lo":-2.8,"hi":-2.2},
{"p":6,"s":"RP(GRU)","x":100,"y":-2.3,"lo":-2.6,"hi":-2.0},
{"p":6,"s":"RP(GRU)","x":125,"y":-2.2,"lo":-2.5,"hi":-1.9},
{"p":6,"s":"RP(GRU)","x":150,"y":-2.0,"lo":-2.32,"hi":-1.68},
{"p":6,"s":"RP(GRU)","x":175,"y":-1.8,"lo":-2.15,"hi":-1.45},
{"p":6,"s":"RP(GRU)","x":200,"y":-1.55,"lo":-1.95,"hi":-1.15},
{"p":6,"s":"RP(GRU)","x":227,"y":-1.3,"lo":-1.75,"hi":-0.85},
{"p":6,"s":"Free RP(GRU)","x":0,"y":-3.88,"lo":-3.93,"hi":-3.83},
{"p":6,"s":"Free RP(GRU)","x":5,"y":-3.82,"lo":-3.87,"hi":-3.77},
{"p":6,"s":"Free RP(GRU)","x":10,"y":-3.78,"lo":-3.83,"hi":-3.73},
{"p":6,"s":"Free RP(GRU)","x":15,"y":-3.75,"lo":-3.8,"hi":-3.7},
{"p":6,"s":"Free RP(GRU)","x":20,"y":-3.72,"lo":-3.78,"hi":-3.66},
{"p":6,"s":"Free RP(GRU)","x":25,"y":-3.68,"lo":-3.75,"hi":-3.61},
{"p":6,"s":"Free RP(GRU)","x":30,"y":-3.64,"lo":-3.72,"hi":-3.56},
{"p":6,"s":"Free RP(GRU)","x":35,"y":-3.5,"lo":-3.65,"hi":-3.35},
{"p":6,"s":"Free RP(GRU)","x":40,"y":-3.3,"lo":-3.55,"hi":-3.05},
{"p":6,"s":"Free RP(GRU)","x":50,"y":-2.8,"lo":-3.15,"hi":-2.45},
{"p":6,"s":"Free RP(GRU)","x":60,"y":-2.52,"lo":-2.82,"hi":-2.22},
{"p":6,"s":"Free RP(GRU)","x":75,"y":-2.15,"lo":-2.4,"hi":-1.9},
{"p":6,"s":"Free RP(GRU)","x":100,"y":-1.98,"lo":-2.26,"hi":-1.7},
{"p":6,"s":"Free RP(GRU)","x":125,"y":-1.8,"lo":-2.1,"hi":-1.5},
{"p":6,"s":"Free RP(GRU)","x":150,"y":-1.52,"lo":-1.87,"hi":-1.17},
{"p":6,"s":"Free RP(GRU)","x":175,"y":-1.28,"lo":-1.68,"hi":-0.88},
{"p":6,"s":"Free RP(GRU)","x":200,"y":-0.9,"lo":-1.35,"hi":-0.45},
{"p":6,"s":"Free RP(GRU)","x":227,"y":-0.67,"lo":-1.19,"hi":-0.15},
{"p":6,"s":"RP(S5)","x":0,"y":-3.88,"lo":-3.93,"hi":-3.83},
{"p":6,"s":"RP(S5)","x":5,"y":-3.82,"lo":-3.87,"hi":-3.77},
{"p":6,"s":"RP(S5)","x":10,"y":-3.78,"lo":-3.83,"hi":-3.73},
{"p":6,"s":"RP(S5)","x":15,"y":-3.75,"lo":-3.8,"hi":-3.7},
{"p":6,"s":"RP(S5)","x":20,"y":-3.72,"lo":-3.78,"hi":-3.66},
{"p":6,"s":"RP(S5)","x":25,"y":-3.68,"lo":-3.75,"hi":-3.61},
{"p":6,"s":"RP(S5)","x":30,"y":-3.64,"lo":-3.72,"hi":-3.56},
{"p":6,"s":"RP(S5)","x":35,"y":-3.6,"lo":-3.7,"hi":-3.5},
{"p":6,"s":"RP(S5)","x":40,"y":-3.5,"lo":-3.65,"hi":-3.35},
{"p":6,"s":"RP(S5)","x":50,"y":-3.3,"lo":-3.48,"hi":-3.12},
{"p":6,"s":"RP(S5)","x":60,"y":-3.0,"lo":-3.22,"hi":-2.78},
{"p":6,"s":"RP(S5)","x":75,"y":-2.6,"lo":-2.88,"hi":-2.32},
{"p":6,"s":"RP(S5)","x":100,"y":-2.4,"lo":-2.72,"hi":-2.08},
{"p":6,"s":"RP(S5)","x":125,"y":-2.3,"lo":-2.65,"hi":-1.95},
{"p":6,"s":"RP(S5)","x":150,"y":-2.15,"lo":-2.55,"hi":-1.75},
{"p":6,"s":"RP(S5)","x":175,"y":-2.02,"lo":-2.47,"hi":-1.57},
{"p":6,"s":"RP(S5)","x":200,"y":-1.95,"lo":-2.5,"hi":-1.4},
{"p":6,"s":"RP(S5)","x":227,"y":-1.75,"lo":-2.42,"hi":-1.08},
{"p":6,"s":"Free RP(S5)","x":0,"y":-3.88,"lo":-3.93,"hi":-3.83},
{"p":6,"s":"Free RP(S5)","x":5,"y":-3.82,"lo":-3.87,"hi":-3.77},
{"p":6,"s":"Free RP(S5)","x":10,"y":-3.78,"lo":-3.83,"hi":-3.73},
{"p":6,"s":"Free RP(S5)","x":15,"y":-3.75,"lo":-3.8,"hi":-3.7},
{"p":6,"s":"Free RP(S5)","x":20,"y":-3.72,"lo":-3.78,"hi":-3.66},
{"p":6,"s":"Free RP(S5)","x":25,"y":-3.68,"lo":-3.75,"hi":-3.61},
{"p":6,"s":"Free RP(S5)","x":30,"y":-3.64,"lo":-3.72,"hi":-3.56},
{"p":6,"s":"Free RP(S5)","x":35,"y":-3.55,"lo":-3.65,"hi":-3.45},
{"p":6,"s":"Free RP(S5)","x":40,"y":-3.4,"lo":-3.55,"hi":-3.25},
{"p":6,"s":"Free RP(S5)","x":50,"y":-3.02,"lo":-3.27,"hi":-2.77},
{"p":6,"s":"Free RP(S5)","x":60,"y":-2.65,"lo":-2.93,"hi":-2.37},
{"p":6,"s":"Free RP(S5)","x":75,"y":-2.35,"lo":-2.65,"hi":-2.05},
{"p":6,"s":"Free RP(S5)","x":100,"y":-2.25,"lo":-2.55,"hi":-1.95},
{"p":6,"s":"Free RP(S5)","x":125,"y":-2.2,"lo":-2.5,"hi":-1.9},
{"p":6,"s":"Free RP(S5)","x":150,"y":-2.08,"lo":-2.4,"hi":-1.76},
{"p":6,"s":"Free RP(S5)","x":175,"y":-1.85,"lo":-2.2,"hi":-1.5},
{"p":6,"s":"Free RP(S5)","x":200,"y":-1.62,"lo":-2.02,"hi":-1.22},
{"p":6,"s":"Free RP(S5)","x":227,"y":-1.4,"lo":-1.85,"hi":-0.95},

{"p":7,"s":"RP(S5)","x":0,"y":-8.15,"lo":-8.2,"hi":-8.1},
{"p":7,"s":"RP(S5)","x":5,"y":-7.85,"lo":-7.95,"hi":-7.75},
{"p":7,"s":"RP(S5)","x":10,"y":-7.6,"lo":-7.75,"hi":-7.45},
{"p":7,"s":"RP(S5)","x":15,"y":-7.45,"lo":-7.65,"hi":-7.25},
{"p":7,"s":"RP(S5)","x":20,"y":-7.32,"lo":-7.54,"hi":-7.1},
{"p":7,"s":"RP(S5)","x":25,"y":-7.22,"lo":-7.47,"hi":-6.97},
{"p":7,"s":"RP(S5)","x":30,"y":-7.15,"lo":-7.43,"hi":-6.87},
{"p":7,"s":"RP(S5)","x":35,"y":-7.12,"lo":-7.42,"hi":-6.82},
{"p":7,"s":"RP(S5)","x":40,"y":-7.08,"lo":-7.38,"hi":-6.78},
{"p":7,"s":"RP(S5)","x":50,"y":-7.0,"lo":-7.32,"hi":-6.68},
{"p":7,"s":"RP(S5)","x":60,"y":-6.93,"lo":-7.28,"hi":-6.58},
{"p":7,"s":"RP(S5)","x":65,"y":-6.88,"lo":-7.23,"hi":-6.53},
{"p":7,"s":"RP(S5)","x":100,"y":-6.88,"lo":-7.23,"hi":-6.53},
{"p":7,"s":"RP(S5)","x":150,"y":-6.87,"lo":-7.22,"hi":-6.52},
{"p":7,"s":"RP(S5)","x":200,"y":-6.87,"lo":-7.22,"hi":-6.52},
{"p":7,"s":"RP(S5)","x":227,"y":-6.87,"lo":-7.22,"hi":-6.52},
{"p":7,"s":"Free RP(S5)","x":0,"y":-8.15,"lo":-8.2,"hi":-8.1},
{"p":7,"s":"Free RP(S5)","x":5,"y":-7.85,"lo":-7.95,"hi":-7.75},
{"p":7,"s":"Free RP(S5)","x":10,"y":-7.62,"lo":-7.77,"hi":-7.47},
{"p":7,"s":"Free RP(S5)","x":15,"y":-7.47,"lo":-7.67,"hi":-7.27},
{"p":7,"s":"Free RP(S5)","x":20,"y":-7.35,"lo":-7.57,"hi":-7.13},
{"p":7,"s":"Free RP(S5)","x":25,"y":-7.25,"lo":-7.5,"hi":-7.0},
{"p":7,"s":"Free RP(S5)","x":30,"y":-7.18,"lo":-7.46,"hi":-6.9},
{"p":7,"s":"Free RP(S5)","x":35,"y":-7.12,"lo":-7.42,"hi":-6.82},
{"p":7,"s":"Free RP(S5)","x":40,"y":-7.08,"lo":-7.38,"hi":-6.78},
{"p":7,"s":"Free RP(S5)","x":50,"y":-7.02,"lo":-7.34,"hi":-6.7},
{"p":7,"s":"Free RP(S5)","x":60,"y":-6.95,"lo":-7.28,"hi":-6.62},
{"p":7,"s":"Free RP(S5)","x":65,"y":-6.9,"lo":-7.23,"hi":-6.57},
{"p":7,"s":"Free RP(S5)","x":75,"y":-6.88,"lo":-7.21,"hi":-6.55},
{"p":7,"s":"Free RP(S5)","x":100,"y":-6.87,"lo":-7.2,"hi":-6.54},
{"p":7,"s":"Free RP(S5)","x":150,"y":-6.86,"lo":-7.19,"hi":-6.53},
{"p":7,"s":"Free RP(S5)","x":200,"y":-6.86,"lo":-7.19,"hi":-6.53},
{"p":7,"s":"Free RP(S5)","x":227,"y":-6.86,"lo":-7.19,"hi":-6.53},
{"p":7,"s":"RP(GRU)","x":0,"y":-8.15,"lo":-8.2,"hi":-8.1},
{"p":7,"s":"RP(GRU)","x":5,"y":-7.8,"lo":-7.9,"hi":-7.7},
{"p":7,"s":"RP(GRU)","x":10,"y":-7.55,"lo":-7.7,"hi":-7.4},
{"p":7,"s":"RP(GRU)","x":15,"y":-7.3,"lo":-7.5,"hi":-7.1},
{"p":7,"s":"RP(GRU)","x":20,"y":-7.1,"lo":-7.35,"hi":-6.85},
{"p":7,"s":"RP(GRU)","x":25,"y":-7.0,"lo":-7.28,"hi":-6.72},
{"p":7,"s":"RP(GRU)","x":30,"y":-6.95,"lo":-7.25,"hi":-6.65},
{"p":7,"s":"RP(GRU)","x":35,"y":-6.88,"lo":-7.18,"hi":-6.58},
{"p":7,"s":"RP(GRU)","x":40,"y":-6.8,"lo":-7.12,"hi":-6.48},
{"p":7,"s":"RP(GRU)","x":50,"y":-6.62,"lo":-6.97,"hi":-6.27},
{"p":7,"s":"RP(GRU)","x":60,"y":-6.35,"lo":-6.75,"hi":-5.95},
{"p":7,"s":"RP(GRU)","x":75,"y":-6.1,"lo":-6.55,"hi":-5.65},
{"p":7,"s":"RP(GRU)","x":90,"y":-5.9,"lo":-6.4,"hi":-5.4},
{"p":7,"s":"RP(GRU)","x":100,"y":-5.7,"lo":-6.25,"hi":-5.15},
{"p":7,"s":"RP(GRU)","x":110,"y":-5.45,"lo":-6.05,"hi":-4.85},
{"p":7,"s":"RP(GRU)","x":125,"y":-5.0,"lo":-5.7,"hi":-4.3},
{"p":7,"s":"RP(GRU)","x":140,"y":-4.6,"lo":-5.4,"hi":-3.8},
{"p":7,"s":"RP(GRU)","x":150,"y":-4.3,"lo":-5.2,"hi":-3.4},
{"p":7,"s":"RP(GRU)","x":160,"y":-3.6,"lo":-4.6,"hi":-2.6},
{"p":7,"s":"RP(GRU)","x":175,"y":-3.1,"lo":-4.2,"hi":-2.0},
{"p":7,"s":"RP(GRU)","x":190,"y":-2.8,"lo":-4.0,"hi":-1.6},
{"p":7,"s":"RP(GRU)","x":200,"y":-2.4,"lo":-3.7,"hi":-1.1},
{"p":7,"s":"RP(GRU)","x":215,"y":-1.8,"lo":-3.2,"hi":-0.4},
{"p":7,"s":"RP(GRU)","x":227,"y":-1.45,"lo":-2.9,"hi":0.0},
{"p":7,"s":"Free RP(GRU)","x":0,"y":-8.15,"lo":-8.2,"hi":-8.1},
{"p":7,"s":"Free RP(GRU)","x":5,"y":-7.8,"lo":-7.9,"hi":-7.7},
{"p":7,"s":"Free RP(GRU)","x":10,"y":-7.55,"lo":-7.7,"hi":-7.4},
{"p":7,"s":"Free RP(GRU)","x":15,"y":-7.25,"lo":-7.45,"hi":-7.05},
{"p":7,"s":"Free RP(GRU)","x":20,"y":-7.05,"lo":-7.3,"hi":-6.8},
{"p":7,"s":"Free RP(GRU)","x":25,"y":-6.98,"lo":-7.26,"hi":-6.7},
{"p":7,"s":"Free RP(GRU)","x":30,"y":-6.92,"lo":-7.22,"hi":-6.62},
{"p":7,"s":"Free RP(GRU)","x":35,"y":-6.85,"lo":-7.15,"hi":-6.55},
{"p":7,"s":"Free RP(GRU)","x":40,"y":-6.8,"lo":-7.12,"hi":-6.48},
{"p":7,"s":"Free RP(GRU)","x":50,"y":-6.68,"lo":-7.03,"hi":-6.33},
{"p":7,"s":"Free RP(GRU)","x":60,"y":-6.4,"lo":-6.8,"hi":-6.0},
{"p":7,"s":"Free RP(GRU)","x":75,"y":-6.2,"lo":-6.65,"hi":-5.75},
{"p":7,"s":"Free RP(GRU)","x":90,"y":-6.1,"lo":-6.6,"hi":-5.6},
{"p":7,"s":"Free RP(GRU)","x":100,"y":-6.02,"lo":-6.62,"hi":-5.42},
{"p":7,"s":"Free RP(GRU)","x":110,"y":-5.8,"lo":-6.5,"hi":-5.1},
{"p":7,"s":"Free RP(GRU)","x":125,"y":-5.25,"lo":-6.35,"hi":-4.15},
{"p":7,"s":"Free RP(GRU)","x":140,"y":-4.6,"lo":-5.7,"hi":-3.5},
{"p":7,"s":"Free RP(GRU)","x":150,"y":-4.2,"lo":-5.3,"hi":-3.1},
{"p":7,"s":"Free RP(GRU)","x":160,"y":-3.9,"lo":-5.1,"hi":-2.7},
{"p":7,"s":"Free RP(GRU)","x":175,"y":-3.6,"lo":-4.8,"hi":-2.4},
{"p":7,"s":"Free RP(GRU)","x":190,"y":-3.3,"lo":-4.55,"hi":-2.05},
{"p":7,"s":"Free RP(GRU)","x":200,"y":-3.2,"lo":-4.45,"hi":-1.95},
{"p":7,"s":"Free RP(GRU)","x":215,"y":-2.9,"lo":-4.2,"hi":-1.6},
{"p":7,"s":"Free RP(GRU)","x":227,"y":-2.55,"lo":-3.85,"hi":-1.25},

{"p":8,"s":"RP(S5)","x":0,"y":-8.22,"lo":-8.27,"hi":-8.17},
{"p":8,"s":"RP(S5)","x":5,"y":-7.9,"lo":-8.0,"hi":-7.8},
{"p":8,"s":"RP(S5)","x":10,"y":-7.7,"lo":-7.85,"hi":-7.55},
{"p":8,"s":"RP(S5)","x":15,"y":-7.5,"lo":-7.7,"hi":-7.3},
{"p":8,"s":"RP(S5)","x":20,"y":-7.35,"lo":-7.6,"hi":-7.1},
{"p":8,"s":"RP(S5)","x":25,"y":-7.3,"lo":-7.6,"hi":-7.0},
{"p":8,"s":"RP(S5)","x":30,"y":-7.2,"lo":-7.52,"hi":-6.88},
{"p":8,"s":"RP(S5)","x":35,"y":-7.18,"lo":-7.53,"hi":-6.83},
{"p":8,"s":"RP(S5)","x":40,"y":-7.18,"lo":-7.55,"hi":-6.81},
{"p":8,"s":"RP(S5)","x":50,"y":-7.05,"lo":-7.45,"hi":-6.65},
{"p":8,"s":"RP(S5)","x":60,"y":-6.95,"lo":-7.4,"hi":-6.5},
{"p":8,"s":"RP(S5)","x":75,"y":-6.9,"lo":-7.38,"hi":-6.42},
{"p":8,"s":"RP(S5)","x":100,"y":-6.8,"lo":-7.3,"hi":-6.3},
{"p":8,"s":"RP(S5)","x":112,"y":-6.78,"lo":-7.28,"hi":-6.28},
{"p":8,"s":"RP(S5)","x":114,"y":-6.66,"lo":-7.16,"hi":-6.16},
{"p":8,"s":"RP(S5)","x":125,"y":-6.65,"lo":-7.15,"hi":-6.15},
{"p":8,"s":"RP(S5)","x":150,"y":-6.65,"lo":-7.15,"hi":-6.15},
{"p":8,"s":"RP(S5)","x":175,"y":-6.64,"lo":-7.15,"hi":-6.13},
{"p":8,"s":"RP(S5)","x":200,"y":-6.63,"lo":-7.15,"hi":-6.11},
{"p":8,"s":"RP(S5)","x":227,"y":-6.63,"lo":-7.15,"hi":-6.11},
{"p":8,"s":"Free RP(S5)","x":0,"y":-8.22,"lo":-8.27,"hi":-8.17},
{"p":8,"s":"Free RP(S5)","x":5,"y":-7.9,"lo":-8.0,"hi":-7.8},
{"p":8,"s":"Free RP(S5)","x":10,"y":-7.7,"lo":-7.85,"hi":-7.55},
{"p":8,"s":"Free RP(S5)","x":15,"y":-7.5,"lo":-7.7,"hi":-7.3},
{"p":8,"s":"Free RP(S5)","x":20,"y":-7.25,"lo":-7.5,"hi":-7.0},
{"p":8,"s":"Free RP(S5)","x":25,"y":-7.05,"lo":-7.35,"hi":-6.75},
{"p":8,"s":"Free RP(S5)","x":30,"y":-6.88,"lo":-7.23,"hi":-6.53},
{"p":8,"s":"Free RP(S5)","x":35,"y":-6.8,"lo":-7.17,"hi":-6.43},
{"p":8,"s":"Free RP(S5)","x":40,"y":-6.75,"lo":-7.13,"hi":-6.37},
{"p":8,"s":"Free RP(S5)","x":50,"y":-6.7,"lo":-7.1,"hi":-6.3},
{"p":8,"s":"Free RP(S5)","x":60,"y":-6.6,"lo":-7.02,"hi":-6.18},
{"p":8,"s":"Free RP(S5)","x":75,"y":-6.57,"lo":-6.99,"hi":-6.15},
{"p":8,"s":"Free RP(S5)","x":100,"y":-6.55,"lo":-6.97,"hi":-6.13},
{"p":8,"s":"Free RP(S5)","x":125,"y":-6.53,"lo":-6.95,"hi":-6.11},
{"p":8,"s":"Free RP(S5)","x":150,"y":-6.52,"lo":-6.94,"hi":-6.1},
{"p":8,"s":"Free RP(S5)","x":175,"y":-6.52,"lo":-6.94,"hi":-6.1},
{"p":8,"s":"Free RP(S5)","x":200,"y":-6.51,"lo":-6.93,"hi":-6.09},
{"p":8,"s":"Free RP(S5)","x":227,"y":-6.5,"lo":-6.92,"hi":-6.08},
{"p":8,"s":"RP(GRU)","x":0,"y":-8.22,"lo":-8.27,"hi":-8.17},
{"p":8,"s":"RP(GRU)","x":5,"y":-7.85,"lo":-7.95,"hi":-7.75},
{"p":8,"s":"RP(GRU)","x":10,"y":-7.65,"lo":-7.8,"hi":-7.5},
{"p":8,"s":"RP(GRU)","x":15,"y":-7.4,"lo":-7.6,"hi":-7.2},
{"p":8,"s":"RP(GRU)","x":20,"y":-7.15,"lo":-7.4,"hi":-6.9},
{"p":8,"s":"RP(GRU)","x":25,"y":-7.0,"lo":-7.28,"hi":-6.72},
{"p":8,"s":"RP(GRU)","x":30,"y":-6.85,"lo":-7.15,"hi":-6.55},
{"p":8,"s":"RP(GRU)","x":35,"y":-6.7,"lo":-7.02,"hi":-6.38},
{"p":8,"s":"RP(GRU)","x":40,"y":-6.65,"lo":-7.0,"hi":-6.3},
{"p":8,"s":"RP(GRU)","x":50,"y":-6.6,"lo":-6.95,"hi":-6.25},
{"p":8,"s":"RP(GRU)","x":60,"y":-6.45,"lo":-6.85,"hi":-6.05},
{"p":8,"s":"RP(GRU)","x":75,"y":-6.4,"lo":-6.8,"hi":-6.0},
{"p":8,"s":"RP(GRU)","x":80,"y":-6.2,"lo":-6.65,"hi":-5.75},
{"p":8,"s":"RP(GRU)","x":90,"y":-5.8,"lo":-6.25,"hi":-5.35},
{"p":8,"s":"RP(GRU)","x":100,"y":-5.6,"lo":-6.1,"hi":-5.1},
{"p":8,"s":"RP(GRU)","x":110,"y":-5.55,"lo":-6.05,"hi":-5.05},
{"p":8,"s":"RP(GRU)","x":125,"y":-5.3,"lo":-5.8,"hi":-4.8},
{"p":8,"s":"RP(GRU)","x":150,"y":-5.25,"lo":-5.7,"hi":-4.8},
{"p":8,"s":"RP(GRU)","x":165,"y":-5.25,"lo":-5.7,"hi":-4.8},
{"p":8,"s":"RP(GRU)","x":175,"y":-5.15,"lo":-5.6,"hi":-4.7},
{"p":8,"s":"RP(GRU)","x":190,"y":-4.9,"lo":-5.35,"hi":-4.45},
{"p":8,"s":"RP(GRU)","x":227,"y":-4.9,"lo":-5.35,"hi":-4.45},
{"p":8,"s":"Free RP(GRU)","x":0,"y":-8.22,"lo":-8.27,"hi":-8.17},
{"p":8,"s":"Free RP(GRU)","x":5,"y":-7.85,"lo":-7.95,"hi":-7.75},
{"p":8,"s":"Free RP(GRU)","x":10,"y":-7.65,"lo":-7.8,"hi":-7.5},
{"p":8,"s":"Free RP(GRU)","x":15,"y":-7.35,"lo":-7.55,"hi":-7.15},
{"p":8,"s":"Free RP(GRU)","x":20,"y":-7.05,"lo":-7.35,"hi":-6.75},
{"p":8,"s":"Free RP(GRU)","x":25,"y":-6.85,"lo":-7.17,"hi":-6.53},
{"p":8,"s":"Free RP(GRU)","x":30,"y":-6.7,"lo":-7.05,"hi":-6.35},
{"p":8,"s":"Free RP(GRU)","x":35,"y":-6.62,"lo":-7.0,"hi":-6.24},
{"p":8,"s":"Free RP(GRU)","x":40,"y":-6.6,"lo":-7.0,"hi":-6.2},
{"p":8,"s":"Free RP(GRU)","x":50,"y":-6.55,"lo":-7.0,"hi":-6.1},
{"p":8,"s":"Free RP(GRU)","x":60,"y":-6.42,"lo":-6.92,"hi":-5.92},
{"p":8,"s":"Free RP(GRU)","x":75,"y":-6.35,"lo":-6.85,"hi":-5.85},
{"p":8,"s":"Free RP(GRU)","x":85,"y":-6.1,"lo":-6.65,"hi":-5.55},
{"p":8,"s":"Free RP(GRU)","x":100,"y":-5.9,"lo":-6.45,"hi":-5.35},
{"p":8,"s":"Free RP(GRU)","x":110,"y":-5.7,"lo":-6.3,"hi":-5.1},
{"p":8,"s":"Free RP(GRU)","x":125,"y":-5.5,"lo":-6.15,"hi":-4.85},
{"p":8,"s":"Free RP(GRU)","x":150,"y":-5.35,"lo":-6.05,"hi":-4.65},
{"p":8,"s":"Free RP(GRU)","x":152,"y":-5.1,"lo":-6.0,"hi":-4.2},
{"p":8,"s":"Free RP(GRU)","x":165,"y":-4.95,"lo":-5.75,"hi":-4.15},
{"p":8,"s":"Free RP(GRU)","x":175,"y":-4.7,"lo":-5.5,"hi":-3.9},
{"p":8,"s":"Free RP(GRU)","x":190,"y":-4.5,"lo":-5.25,"hi":-3.75},
{"p":8,"s":"Free RP(GRU)","x":200,"y":-4.47,"lo":-5.22,"hi":-3.72},
{"p":8,"s":"Free RP(GRU)","x":227,"y":-4.47,"lo":-5.22,"hi":-3.72}
]},
"concat": [
{"title": "Cartpole: Train", "width": 376, "height": 220,
 "transform": [{"filter": "datum.p == 1"}],
 "encoding": {"x": {"field": "x", "type": "quantitative", "scale": {"domain": [-11.35, 238.35], "nice": false, "zero": false}, "axis": {"values": [0, 50, 100, 150, 200], "title": null}}},
 "layer": [
  {"mark": {"type": "area", "opacity": 0.2}, "encoding": {"y": {"field": "lo", "type": "quantitative", "scale": {"domain": [1.56, 5.24], "nice": false, "zero": false}, "axis": {"values": [2, 3, 4, 5], "title": "MMER"}}, "y2": {"field": "hi"}, "fill": {"field": "s", "type": "nominal", "scale": {"domain": ["RP(GRU)", "Free RP(GRU)", "RP(S5)", "Free RP(S5)"], "range": ["#f77189", "#97a431", "#36ada4", "#a48cf4"]}, "legend": null}}},
  {"transform": [{"filter": {"field": "s", "oneOf": ["RP(GRU)", "Free RP(GRU)"]}}], "mark": {"type": "line", "strokeWidth": 1.6}, "encoding": {"y": {"field": "y", "type": "quantitative", "scale": {"domain": [1.56, 5.24], "nice": false, "zero": false}, "axis": {"values": [2, 3, 4, 5], "title": "MMER"}}, "stroke": {"field": "s", "type": "nominal", "scale": {"domain": ["RP(GRU)", "Free RP(GRU)"], "range": ["#f77189", "#97a431"]}, "legend": {"title": null, "legendX": 41, "legendY": 553, "columnPadding": 74}}}},
  {"transform": [{"filter": {"field": "s", "oneOf": ["RP(S5)", "Free RP(S5)"]}}], "mark": {"type": "line", "strokeWidth": 1.6}, "encoding": {"y": {"field": "y", "type": "quantitative", "scale": {"domain": [1.56, 5.24], "nice": false, "zero": false}, "axis": {"values": [2, 3, 4, 5], "title": "MMER"}}, "color": {"field": "s", "type": "nominal", "scale": {"domain": ["RP(S5)", "Free RP(S5)"], "range": ["#36ada4", "#a48cf4"]}, "legend": {"title": null, "legendX": 839, "legendY": 553, "columnPadding": 68}}}}
 ]},
{"title": "Cartpole: Test", "width": 374, "height": 220,
 "transform": [{"filter": "datum.p == 2"}],
 "encoding": {"x": {"field": "x", "type": "quantitative", "scale": {"domain": [-11.35, 238.35], "nice": false, "zero": false}, "axis": {"values": [0, 50, 100, 150, 200], "title": null}}},
 "layer": [
  {"mark": {"type": "area", "opacity": 0.2}, "encoding": {"y": {"field": "lo", "type": "quantitative", "scale": {"domain": [1.54, 4.85], "nice": false, "zero": false}, "axis": {"values": [2, 3, 4], "title": null}}, "y2": {"field": "hi"}, "fill": {"field": "s", "type": "nominal", "scale": {"domain": ["RP(GRU)", "Free RP(GRU)", "RP(S5)", "Free RP(S5)"], "range": ["#f77189", "#97a431", "#36ada4", "#a48cf4"]}, "legend": null}}},
  {"transform": [{"filter": {"field": "s", "oneOf": ["RP(GRU)", "Free RP(GRU)"]}}], "mark": {"type": "line", "strokeWidth": 1.6}, "encoding": {"y": {"field": "y", "type": "quantitative", "scale": {"domain": [1.54, 4.85], "nice": false, "zero": false}, "axis": {"values": [2, 3, 4], "title": null}}, "stroke": {"field": "s", "type": "nominal", "scale": {"domain": ["RP(GRU)", "Free RP(GRU)"], "range": ["#f77189", "#97a431"]}, "legend": {"title": null, "legendX": 41, "legendY": 553, "columnPadding": 74}}}},
  {"transform": [{"filter": {"field": "s", "oneOf": ["RP(S5)", "Free RP(S5)"]}}], "mark": {"type": "line", "strokeWidth": 1.6}, "encoding": {"y": {"field": "y", "type": "quantitative", "scale": {"domain": [1.54, 4.85], "nice": false, "zero": false}, "axis": {"values": [2, 3, 4], "title": null}}, "color": {"field": "s", "type": "nominal", "scale": {"domain": ["RP(S5)", "Free RP(S5)"], "range": ["#36ada4", "#a48cf4"]}, "legend": {"title": null, "legendX": 839, "legendY": 553, "columnPadding": 68}}}}
 ]},
{"title": "Repeat_previous: Train", "width": 360, "height": 220,
 "transform": [{"filter": "datum.p == 3"}],
 "encoding": {"x": {"field": "x", "type": "quantitative", "scale": {"domain": [-11.35, 238.35], "nice": false, "zero": false}, "axis": {"values": [0, 50, 100, 150, 200], "title": null}}},
 "layer": [
  {"mark": {"type": "area", "opacity": 0.2}, "encoding": {"y": {"field": "lo", "type": "quantitative", "scale": {"domain": [-8.49, 0.74], "nice": false, "zero": false}, "axis": {"values": [-8, -6, -4, -2, 0], "title": "MMER"}}, "y2": {"field": "hi"}, "fill": {"field": "s", "type": "nominal", "scale": {"domain": ["RP(GRU)", "Free RP(GRU)", "RP(S5)", "Free RP(S5)"], "range": ["#f77189", "#97a431", "#36ada4", "#a48cf4"]}, "legend": null}}},
  {"transform": [{"filter": {"field": "s", "oneOf": ["RP(GRU)", "Free RP(GRU)"]}}], "mark": {"type": "line", "strokeWidth": 1.6}, "encoding": {"y": {"field": "y", "type": "quantitative", "scale": {"domain": [-8.49, 0.74], "nice": false, "zero": false}, "axis": {"values": [-8, -6, -4, -2, 0], "title": "MMER"}}, "stroke": {"field": "s", "type": "nominal", "scale": {"domain": ["RP(GRU)", "Free RP(GRU)"], "range": ["#f77189", "#97a431"]}, "legend": {"title": null, "legendX": 41, "legendY": 553, "columnPadding": 74}}}},
  {"transform": [{"filter": {"field": "s", "oneOf": ["RP(S5)", "Free RP(S5)"]}}], "mark": {"type": "line", "strokeWidth": 1.6}, "encoding": {"y": {"field": "y", "type": "quantitative", "scale": {"domain": [-8.49, 0.74], "nice": false, "zero": false}, "axis": {"values": [-8, -6, -4, -2, 0], "title": "MMER"}}, "color": {"field": "s", "type": "nominal", "scale": {"domain": ["RP(S5)", "Free RP(S5)"], "range": ["#36ada4", "#a48cf4"]}, "legend": {"title": null, "legendX": 839, "legendY": 553, "columnPadding": 68}}}}
 ]},
{"title": "Repeat_previous: Test", "width": 360, "height": 220,
 "transform": [{"filter": "datum.p == 4"}],
 "encoding": {"x": {"field": "x", "type": "quantitative", "scale": {"domain": [-11.35, 238.35], "nice": false, "zero": false}, "axis": {"values": [0, 50, 100, 150, 200], "title": null}}},
 "layer": [
  {"mark": {"type": "area", "opacity": 0.2}, "encoding": {"y": {"field": "lo", "type": "quantitative", "scale": {"domain": [-8.23, -4.21], "nice": false, "zero": false}, "axis": {"values": [-8, -7, -6, -5], "title": null}}, "y2": {"field": "hi"}, "fill": {"field": "s", "type": "nominal", "scale": {"domain": ["RP(GRU)", "Free RP(GRU)", "RP(S5)", "Free RP(S5)"], "range": ["#f77189", "#97a431", "#36ada4", "#a48cf4"]}, "legend": null}}},
  {"transform": [{"filter": {"field": "s", "oneOf": ["RP(GRU)", "Free RP(GRU)"]}}], "mark": {"type": "line", "strokeWidth": 1.6}, "encoding": {"y": {"field": "y", "type": "quantitative", "scale": {"domain": [-8.23, -4.21], "nice": false, "zero": false}, "axis": {"values": [-8, -7, -6, -5], "title": null}}, "stroke": {"field": "s", "type": "nominal", "scale": {"domain": ["RP(GRU)", "Free RP(GRU)"], "range": ["#f77189", "#97a431"]}, "legend": {"title": null, "legendX": 41, "legendY": 553, "columnPadding": 74}}}},
  {"transform": [{"filter": {"field": "s", "oneOf": ["RP(S5)", "Free RP(S5)"]}}], "mark": {"type": "line", "strokeWidth": 1.6}, "encoding": {"y": {"field": "y", "type": "quantitative", "scale": {"domain": [-8.23, -4.21], "nice": false, "zero": false}, "axis": {"values": [-8, -7, -6, -5], "title": null}}, "color": {"field": "s", "type": "nominal", "scale": {"domain": ["RP(S5)", "Free RP(S5)"], "range": ["#36ada4", "#a48cf4"]}, "legend": {"title": null, "legendX": 839, "legendY": 553, "columnPadding": 68}}}}
 ]},
{"title": "Minesweeper: Train", "width": 376, "height": 221,
 "transform": [{"filter": "datum.p == 5"}],
 "encoding": {"x": {"field": "x", "type": "quantitative", "scale": {"domain": [-11.35, 238.35], "nice": false, "zero": false}, "axis": {"values": [0, 50, 100, 150, 200], "title": "Time Steps"}}},
 "layer": [
  {"mark": {"type": "area", "opacity": 0.2}, "encoding": {"y": {"field": "lo", "type": "quantitative", "scale": {"domain": [-4.24, 1.06], "nice": false, "zero": false}, "axis": {"values": [-4, -3, -2, -1, 0, 1], "title": "MMER"}}, "y2": {"field": "hi"}, "fill": {"field": "s", "type": "nominal", "scale": {"domain": ["RP(GRU)", "Free RP(GRU)", "RP(S5)", "Free RP(S5)"], "range": ["#f77189", "#97a431", "#36ada4", "#a48cf4"]}, "legend": null}}},
  {"transform": [{"filter": {"field": "s", "oneOf": ["RP(GRU)", "Free RP(GRU)"]}}], "mark": {"type": "line", "strokeWidth": 1.6}, "encoding": {"y": {"field": "y", "type": "quantitative", "scale": {"domain": [-4.24, 1.06], "nice": false, "zero": false}, "axis": {"values": [-4, -3, -2, -1, 0, 1], "title": "MMER"}}, "stroke": {"field": "s", "type": "nominal", "scale": {"domain": ["RP(GRU)", "Free RP(GRU)"], "range": ["#f77189", "#97a431"]}, "legend": {"title": null, "legendX": 41, "legendY": 553, "columnPadding": 74}}}},
  {"transform": [{"filter": {"field": "s", "oneOf": ["RP(S5)", "Free RP(S5)"]}}], "mark": {"type": "line", "strokeWidth": 1.6}, "encoding": {"y": {"field": "y", "type": "quantitative", "scale": {"domain": [-4.24, 1.06], "nice": false, "zero": false}, "axis": {"values": [-4, -3, -2, -1, 0, 1], "title": "MMER"}}, "color": {"field": "s", "type": "nominal", "scale": {"domain": ["RP(S5)", "Free RP(S5)"], "range": ["#36ada4", "#a48cf4"]}, "legend": {"title": null, "legendX": 839, "legendY": 553, "columnPadding": 68}}}}
 ]},
{"title": "Minesweeper: Test", "width": 374, "height": 221,
 "transform": [{"filter": "datum.p == 6"}],
 "encoding": {"x": {"field": "x", "type": "quantitative", "scale": {"domain": [-11.35, 238.35], "nice": false, "zero": false}, "axis": {"values": [0, 50, 100, 150, 200], "title": "Time Steps"}}},
 "layer": [
  {"mark": {"type": "area", "opacity": 0.2}, "encoding": {"y": {"field": "lo", "type": "quantitative", "scale": {"domain": [-4.15, 0.08], "nice": false, "zero": false}, "axis": {"values": [-4, -3, -2, -1, 0], "title": null}}, "y2": {"field": "hi"}, "fill": {"field": "s", "type": "nominal", "scale": {"domain": ["RP(GRU)", "Free RP(GRU)", "RP(S5)", "Free RP(S5)"], "range": ["#f77189", "#97a431", "#36ada4", "#a48cf4"]}, "legend": null}}},
  {"transform": [{"filter": {"field": "s", "oneOf": ["RP(GRU)", "Free RP(GRU)"]}}], "mark": {"type": "line", "strokeWidth": 1.6}, "encoding": {"y": {"field": "y", "type": "quantitative", "scale": {"domain": [-4.15, 0.08], "nice": false, "zero": false}, "axis": {"values": [-4, -3, -2, -1, 0], "title": null}}, "stroke": {"field": "s", "type": "nominal", "scale": {"domain": ["RP(GRU)", "Free RP(GRU)"], "range": ["#f77189", "#97a431"]}, "legend": {"title": null, "legendX": 41, "legendY": 553, "columnPadding": 74}}}},
  {"transform": [{"filter": {"field": "s", "oneOf": ["RP(S5)", "Free RP(S5)"]}}], "mark": {"type": "line", "strokeWidth": 1.6}, "encoding": {"y": {"field": "y", "type": "quantitative", "scale": {"domain": [-4.15, 0.08], "nice": false, "zero": false}, "axis": {"values": [-4, -3, -2, -1, 0], "title": null}}, "color": {"field": "s", "type": "nominal", "scale": {"domain": ["RP(S5)", "Free RP(S5)"], "range": ["#36ada4", "#a48cf4"]}, "legend": {"title": null, "legendX": 839, "legendY": 553, "columnPadding": 68}}}}
 ]},
{"title": "Repeat_first: Train", "width": 360, "height": 221,
 "transform": [{"filter": "datum.p == 7"}],
 "encoding": {"x": {"field": "x", "type": "quantitative", "scale": {"domain": [-11.35, 238.35], "nice": false, "zero": false}, "axis": {"values": [0, 50, 100, 150, 200], "title": "Time Steps"}}},
 "layer": [
  {"mark": {"type": "area", "opacity": 0.2}, "encoding": {"y": {"field": "lo", "type": "quantitative", "scale": {"domain": [-8.61, 0.35], "nice": false, "zero": false}, "axis": {"values": [-8, -6, -4, -2, 0], "title": "MMER"}}, "y2": {"field": "hi"}, "fill": {"field": "s", "type": "nominal", "scale": {"domain": ["RP(GRU)", "Free RP(GRU)", "RP(S5)", "Free RP(S5)"], "range": ["#f77189", "#97a431", "#36ada4", "#a48cf4"]}, "legend": null}}},
  {"transform": [{"filter": {"field": "s", "oneOf": ["RP(GRU)", "Free RP(GRU)"]}}], "mark": {"type": "line", "strokeWidth": 1.6}, "encoding": {"y": {"field": "y", "type": "quantitative", "scale": {"domain": [-8.61, 0.35], "nice": false, "zero": false}, "axis": {"values": [-8, -6, -4, -2, 0], "title": "MMER"}}, "stroke": {"field": "s", "type": "nominal", "scale": {"domain": ["RP(GRU)", "Free RP(GRU)"], "range": ["#f77189", "#97a431"]}, "legend": {"title": null, "legendX": 41, "legendY": 553, "columnPadding": 74}}}},
  {"transform": [{"filter": {"field": "s", "oneOf": ["RP(S5)", "Free RP(S5)"]}}], "mark": {"type": "line", "strokeWidth": 1.6}, "encoding": {"y": {"field": "y", "type": "quantitative", "scale": {"domain": [-8.61, 0.35], "nice": false, "zero": false}, "axis": {"values": [-8, -6, -4, -2, 0], "title": "MMER"}}, "color": {"field": "s", "type": "nominal", "scale": {"domain": ["RP(S5)", "Free RP(S5)"], "range": ["#36ada4", "#a48cf4"]}, "legend": {"title": null, "legendX": 839, "legendY": 553, "columnPadding": 68}}}}
 ]},
{"title": "Repeat_first: Test", "width": 360, "height": 221,
 "transform": [{"filter": "datum.p == 8"}],
 "encoding": {"x": {"field": "x", "type": "quantitative", "scale": {"domain": [-11.35, 238.35], "nice": false, "zero": false}, "axis": {"values": [0, 50, 100, 150, 200], "title": "Time Steps"}}},
 "layer": [
  {"mark": {"type": "area", "opacity": 0.2}, "encoding": {"y": {"field": "lo", "type": "quantitative", "scale": {"domain": [-8.52, -3.46], "nice": false, "zero": false}, "axis": {"values": [-8, -7, -6, -5, -4], "title": null}}, "y2": {"field": "hi"}, "fill": {"field": "s", "type": "nominal", "scale": {"domain": ["RP(GRU)", "Free RP(GRU)", "RP(S5)", "Free RP(S5)"], "range": ["#f77189", "#97a431", "#36ada4", "#a48cf4"]}, "legend": null}}},
  {"transform": [{"filter": {"field": "s", "oneOf": ["RP(GRU)", "Free RP(GRU)"]}}], "mark": {"type": "line", "strokeWidth": 1.6}, "encoding": {"y": {"field": "y", "type": "quantitative", "scale": {"domain": [-8.52, -3.46], "nice": false, "zero": false}, "axis": {"values": [-8, -7, -6, -5, -4], "title": null}}, "stroke": {"field": "s", "type": "nominal", "scale": {"domain": ["RP(GRU)", "Free RP(GRU)"], "range": ["#f77189", "#97a431"]}, "legend": {"title": null, "legendX": 41, "legendY": 553, "columnPadding": 74}}}},
  {"transform": [{"filter": {"field": "s", "oneOf": ["RP(S5)", "Free RP(S5)"]}}], "mark": {"type": "line", "strokeWidth": 1.6}, "encoding": {"y": {"field": "y", "type": "quantitative", "scale": {"domain": [-8.52, -3.46], "nice": false, "zero": false}, "axis": {"values": [-8, -7, -6, -5, -4], "title": null}}, "color": {"field": "s", "type": "nominal", "scale": {"domain": ["RP(S5)", "Free RP(S5)"], "range": ["#36ada4", "#a48cf4"]}, "legend": {"title": null, "legendX": 839, "legendY": 553, "columnPadding": 68}}}}
 ]}
],
"columns": 4,
"spacing": {"row": 52, "column": 53},
"bounds": "flush",
"config": {
 "font": "DejaVu Sans",
 "view": {"stroke": "#d4d4d4", "strokeWidth": 1.2},
 "axis": {"grid": true, "gridColor": "#e3e3e3", "gridWidth": 1, "domain": false, "ticks": false, "tickSize": 0, "labelFont": "DejaVu Sans", "labelFontSize": 18, "labelColor": "#262626", "labelPadding": 8, "titleFont": "DejaVu Sans", "titleFontSize": 20, "titleFontWeight": "normal", "titleColor": "#262626"},
 "axisX": {"titlePadding": 0, "labelPadding": 4, "labelFlush": false},
 "axisY": {"titlePadding": 8, "labelFlush": false},
 "title": {"font": "DejaVu Sans", "fontSize": 20, "fontWeight": "normal", "color": "#262626", "offset": 2, "baseline": "alphabetic", "frame": "group", "anchor": "middle"},
 "legend": {"orient": "none", "direction": "horizontal", "symbolType": "stroke", "symbolSize": 1100, "symbolStrokeWidth": 2.5, "symbolOpacity": 0.85, "labelFont": "DejaVu Sans", "labelFontSize": 22, "labelColor": "#262626", "labelOffset": 14, "labelLimit": 400, "padding": 0, "rowPadding": 0}
}
}
